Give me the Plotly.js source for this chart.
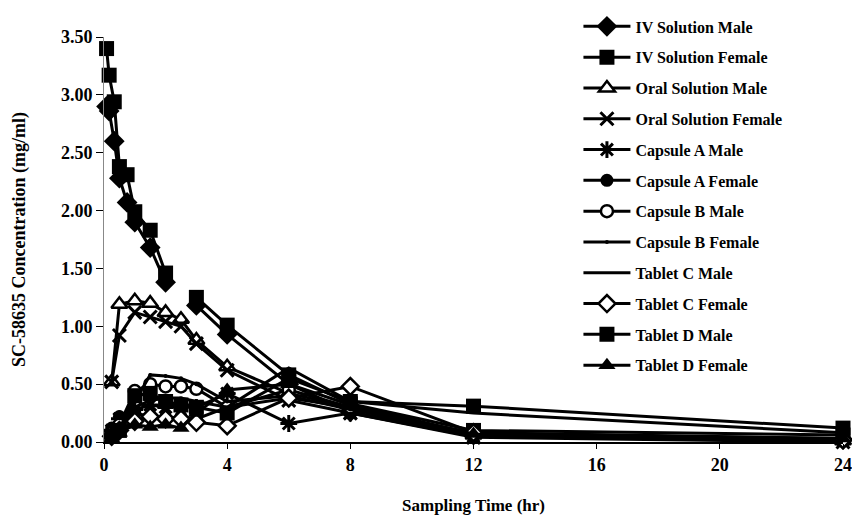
<!DOCTYPE html>
<html>
<head>
<meta charset="utf-8">
<script src="https://cdn.plot.ly/plotly-3.0.1.min.js"></script>
<style>html,body{margin:0;padding:0;background:#fff;}#chart{width:852px;height:527px;}</style>
</head>
<body>
<div id="chart"></div>
<script>
// Sampling times (hr)
const timesIV = [0.083, 0.167, 0.333, 0.5, 0.75, 1, 1.5, 2, 2.5, 3, 4, 6, 8, 12, 24];
const timesOral = [0.25, 0.5, 1, 1.5, 2, 2.5, 3, 4, 6, 8, 12, 24];

// Series values (mg/ml)
const ivSolutionMale     = [2.90, 2.86, 2.60, 2.28, 2.07, 1.90, 1.68, 1.38, null, 1.18, 0.93, 0.50, 0.26, 0.07, 0.02];
const ivSolutionFemale   = [3.40, 3.17, 2.94, 2.38, 2.31, 1.99, 1.83, 1.46, null, 1.25, 1.01, 0.58, 0.33, 0.10, 0.06];
const oralSolutionMale   = [0.52, 1.19, 1.22, 1.20, 1.12, 1.06, 0.88, 0.65, 0.42, 0.30, 0.06, 0.01];
const oralSolutionFemale = [0.52, 0.92, 1.12, 1.08, 1.04, 1.00, 0.85, 0.62, 0.36, 0.25, 0.04, 0.00];
const capsuleAMale       = [0.10, 0.20, 0.28, 0.32, 0.30, 0.32, 0.30, 0.42, 0.16, 0.25, 0.05, 0.02];
const capsuleAFemale     = [0.12, 0.22, 0.25, 0.22, 0.20, 0.22, 0.20, 0.30, 0.38, 0.30, 0.06, 0.01];
const capsuleBMale       = [0.08, 0.15, 0.44, 0.50, 0.48, 0.48, 0.46, 0.30, 0.45, 0.30, 0.06, 0.02];
const capsuleBFemale     = [0.06, 0.12, 0.35, 0.58, 0.57, 0.55, 0.50, 0.35, 0.40, 0.28, 0.08, 0.03];
const tabletCMale        = [0.05, 0.10, 0.30, 0.36, 0.38, 0.38, 0.35, 0.30, 0.64, 0.35, 0.25, 0.08];
const tabletCFemale      = [0.05, 0.10, 0.18, 0.22, 0.20, 0.20, 0.17, 0.14, 0.38, 0.48, 0.08, 0.02];
const tabletDMale        = [0.05, 0.10, 0.40, 0.42, 0.35, 0.32, 0.30, 0.25, 0.55, 0.35, 0.31, 0.12];
const tabletDFemale      = [0.03, 0.08, 0.15, 0.13, 0.15, 0.12, 0.25, 0.45, 0.50, 0.32, 0.07, 0.03];

const seriesNames = ["IV Solution Male","IV Solution Female","Oral Solution Male","Oral Solution Female",
  "Capsule A Male","Capsule A Female","Capsule B Male","Capsule B Female",
  "Tablet C Male","Tablet C Female","Tablet D Male","Tablet D Female"];
const xTicks = [0, 4, 8, 12, 16, 20, 24];
const yTicks = [0, 0.5, 1, 1.5, 2, 2.5, 3, 3.5];

const seriesData = [ivSolutionMale, ivSolutionFemale, oralSolutionMale, oralSolutionFemale,
  capsuleAMale, capsuleAFemale, capsuleBMale, capsuleBFemale,
  tabletCMale, tabletCFemale, tabletDMale, tabletDFemale];
const seriesTimes = [timesIV, timesIV, timesOral, timesOral, timesOral, timesOral,
  timesOral, timesOral, timesOral, timesOral, timesOral, timesOral];

const markerStyles = [
  {symbol: 'diamond', size: 16, color: '#000', line: {width: 0}},
  {symbol: 'square', size: 15, color: '#000', line: {width: 0}},
  {symbol: 'triangle-up', size: 14, color: '#fff', line: {width: 2.5, color: '#000'}},
  {symbol: 'x-thin', size: 13, color: '#000', line: {width: 3, color: '#000'}},
  {symbol: 'asterisk', size: 14, color: '#000', line: {width: 3, color: '#000'}},
  {symbol: 'circle', size: 13, color: '#000', line: {width: 0}},
  {symbol: 'circle', size: 12, color: '#fff', line: {width: 2.5, color: '#000'}},
  {symbol: 'circle', size: 4, color: '#000', line: {width: 0}},
  null,
  {symbol: 'diamond', size: 13, color: '#fff', line: {width: 2.5, color: '#000'}},
  {symbol: 'square', size: 15, color: '#000', line: {width: 0}},
  {symbol: 'triangle-up', size: 15, color: '#000', line: {width: 0}}
];

const traces = seriesNames.map((name, i) => {
  const t = {
    type: 'scatter',
    x: seriesTimes[i],
    y: seriesData[i],
    name: name,
    legendgroup: 'g' + i,
    mode: markerStyles[i] ? 'lines+markers' : 'lines',
    connectgaps: false,
    line: {color: '#000', width: 3},
    cliponaxis: false
  };
  if (markerStyles[i]) t.marker = markerStyles[i];
  return t;
});

const serif = 'Liberation Serif, Times New Roman, serif';
const layout = {
  width: 852, height: 527,
  margin: {l: 104, r: 9, t: 25, b: 85},
  paper_bgcolor: '#fff', plot_bgcolor: '#fff',
  showlegend: true,
  legend: {
    x: 0.642, y: 1.068, xanchor: 'left', yanchor: 'top',
    font: {family: serif, size: 16, color: '#000', weight: 'bold'},
    bgcolor: 'rgba(0,0,0,0)', borderwidth: 0,
    tracegroupgap: 7, traceorder: 'grouped', itemwidth: 47,
    maxheight: 600
  },
  xaxis: {
    range: [0, 24], tickvals: xTicks, ticktext: xTicks.map(String),
    showgrid: false, zeroline: false, showline: true, linecolor: '#000', linewidth: 2,
    ticks: 'outside', ticklen: 5, tickcolor: '#000', tickwidth: 1,
    tickfont: {family: serif, size: 18, color: '#000', weight: 'bold'},
    title: {text: 'Sampling Time (hr)', font: {family: serif, size: 17, color: '#000', weight: 'bold'}, standoff: 26}
  },
  yaxis: {
    range: [0, 3.5], tickvals: yTicks, ticktext: yTicks.map(v => v.toFixed(2)),
    showgrid: false, zeroline: false, showline: true, linecolor: '#888', linewidth: 1,
    ticks: 'outside', ticklen: 7, tickcolor: '#000', tickwidth: 1,
    tickfont: {family: serif, size: 18, color: '#000', weight: 'bold'},
    title: {text: 'SC-58635 Concentration (mg/ml)', font: {family: serif, size: 18, color: '#000', weight: 'bold'}, standoff: 30}
  }
};

Plotly.newPlot('chart', traces, layout, {displayModeBar: false, staticPlot: true});
</script>
</body>
</html>
